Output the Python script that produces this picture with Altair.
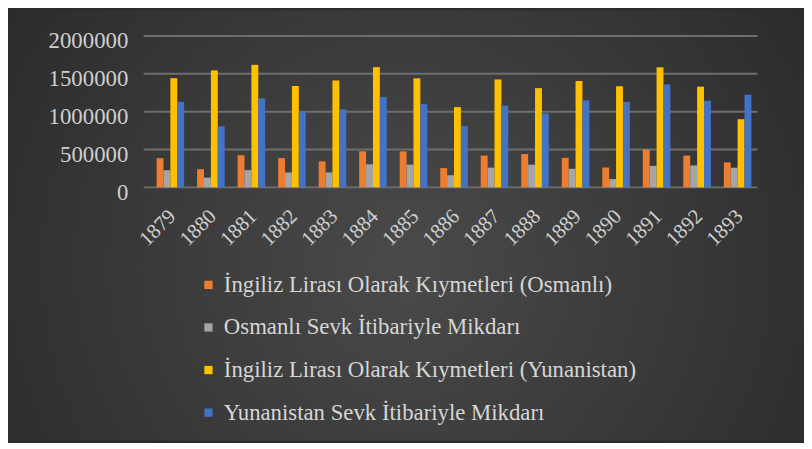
import altair as alt
import pandas as pd

years = ["1879", "1880", "1881", "1882", "1883", "1884", "1885", "1886",
         "1887", "1888", "1889", "1890", "1891", "1892", "1893"]
series = [
    "İngiliz Lirası Olarak Kıymetleri (Osmanlı)",
    "Osmanlı Sevk İtibariyle Mikdarı",
    "İngiliz Lirası Olarak Kıymetleri (Yunanistan)",
    "Yunanistan Sevk İtibariyle Mikdarı",
]
osm_lira = [386000, 240000, 425000, 386000, 343000, 476000, 475000, 254000,
            420000, 440000, 390000, 262000, 500000, 420000, 330000]
osm_sevk = [227000, 129000, 227000, 197000, 197000, 305000, 300000, 160000,
            260000, 300000, 245000, 110000, 285000, 290000, 260000]
yun_lira = [1442000, 1545000, 1618000, 1339000, 1412000, 1588000, 1440000, 1060000,
            1425000, 1310000, 1405000, 1335000, 1585000, 1330000, 900000]
yun_sevk = [1129000, 807000, 1176000, 1004000, 1030000, 1193000, 1100000, 810000,
            1080000, 975000, 1150000, 1130000, 1360000, 1145000, 1225000]
grid_values = [0, 500000, 1000000, 1500000, 2000000]
colors = ["#ED7D31", "#A5A5A5", "#FFC000", "#4472C4"]
FONT = "Liberation Serif"

rows = []
for vals, s in zip([osm_lira, osm_sevk, yun_lira, yun_sevk], series):
    for y, v in zip(years, vals):
        rows.append({"Yıl": y, "Seri": s, "Değer": v})
df = pd.DataFrame(rows)
grid_df = pd.DataFrame({"Değer": grid_values})

W, H = 620, 153
PAD = {"left": 137, "top": 26, "right": 47, "bottom": 256}
yscale = alt.Scale(domain=[0, 2000000])

bg = alt.Chart(alt.Data(values=[{}])).mark_rect(
    color={
        "gradient": "radial",
        "x1": 0.5, "y1": 0.55, "r1": 0,
        "x2": 0.5, "y2": 0.55, "r2": 0.72,
        "stops": [
            {"offset": 0, "color": "#4a4a4a"},
            {"offset": 1, "color": "#252525"},
        ],
    }
).encode(
    x=alt.value(-PAD["left"]),
    x2=alt.value(W + PAD["right"]),
    y=alt.value(-PAD["top"]),
    y2=alt.value(H + PAD["bottom"]),
)

grid = alt.Chart(grid_df).mark_rule(color="#6e6e6e", strokeWidth=2).encode(
    y=alt.Y("Değer:Q", scale=yscale, title=None, axis=None),
    x=alt.value(0),
    x2=alt.value(W),
)

bars = alt.Chart(df).mark_bar().encode(
    x=alt.X("Yıl:N", sort=years, title=None,
            scale=alt.Scale(paddingInner=0.15, paddingOuter=0.15),
            axis=alt.Axis(labelAngle=-45, labelFontSize=21, labelFont=FONT,
                          labelColor="#cfcfcf", labelPadding=18, labelOffset=-2,
                          domain=False, ticks=False,
                          grid=False, zindex=1, labelOverlap=False)),
    xOffset=alt.XOffset("Seri:N", scale=alt.Scale(domain=["_"] + series, paddingInner=0)),
    y=alt.Y("Değer:Q", title=None, scale=yscale,
            axis=alt.Axis(values=grid_values, format="d", zindex=1, labelOverlap=False,
                          orient="left", labelFontSize=23, labelFont=FONT,
                          labelColor="#cfcfcf", labelPadding=16, labelOffset=5,
                          domain=False, ticks=False, grid=False)),
    color=alt.Color("Seri:N", sort=series,
                    scale=alt.Scale(domain=series, range=colors),
                    legend=alt.Legend(title=None, orient="none", legendX=54, legendY=240,
                                      direction="vertical", symbolType="square",
                                      symbolSize=70, symbolStrokeWidth=0,
                                      labelFont=FONT, labelFontSize=23,
                                      labelColor="#d6d6d6", rowPadding=19,
                                      labelLimit=700, labelOffset=4)),
)

chart = alt.layer(bg, grid, bars).resolve_axis(y="independent").properties(
    width=W, height=H,
    autosize=alt.AutoSizeParams(type="none"),
    padding=PAD,
    background="#2c2c2c",
).configure_view(stroke=None)

chart.save("out.html", embed_options={"renderer": "svg", "actions": False})
